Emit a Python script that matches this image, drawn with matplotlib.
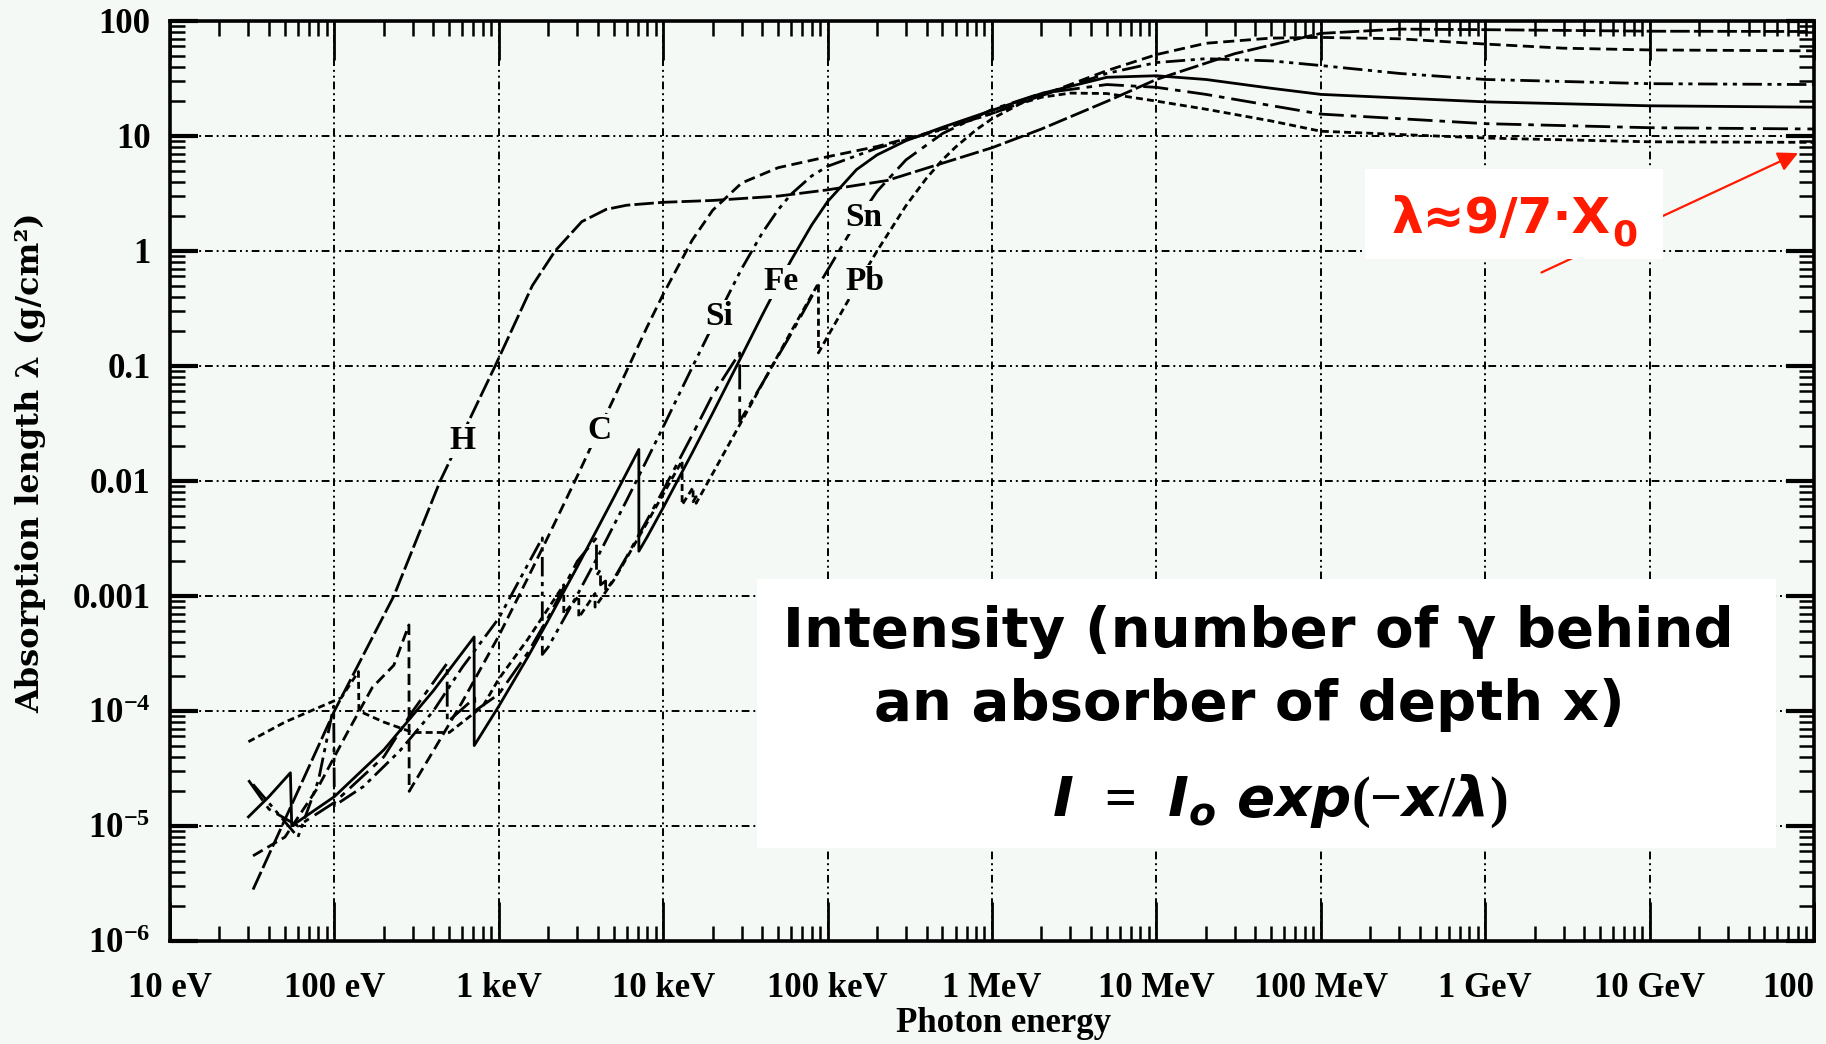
import numpy as np
import matplotlib
matplotlib.use('Agg')
import matplotlib.pyplot as plt
from matplotlib.patches import Rectangle
from matplotlib.ticker import FixedLocator, FixedFormatter, LogLocator, NullFormatter

plt.rcParams['mathtext.fontset'] = 'custom'
plt.rcParams['mathtext.rm'] = 'Liberation Serif:bold'
plt.rcParams['mathtext.it'] = 'DejaVu Sans:italic:bold'
plt.rcParams['mathtext.bf'] = 'DejaVu Sans:bold'

# photon energy in eV, absorption length in g/cm^2
H_E = [32, 100, 230, 440, 950, 1600, 2200, 3200, 4500, 6000, 1e4, 2e4, 5e4, 1e5,
       2.3e5, 5e5, 1e6, 2e6, 5e6, 1e7, 3e7, 1e8, 3e8, 1e9, 1e10, 1e11]
H_lam = [2.8e-6, 1.0e-4, 1.0e-3, 1.0e-2, 0.1, 0.5, 1.0, 1.8, 2.3, 2.5, 2.65, 2.75, 3.0, 3.4,
         4.1, 5.8, 7.9, 11.5, 20, 31, 52, 78, 85, 84, 81.5, 81]

C_E = [32, 50, 80, 120, 170, 230, 284, 285, 400, 600, 1000, 1500, 2000, 3000, 4000, 5000,
       6000, 8000, 1e4, 1.5e4, 2e4, 3e4, 5e4, 1e5, 2e5, 5e5, 1e6, 2e6, 5e6, 1e7, 2e7, 5e7,
       1e8, 3e8, 1e9, 3e9, 1e10, 1e11]
C_lam = [5.5e-6, 8e-6, 2.2e-5, 6.5e-5, 1.6e-4, 2.5e-4, 5.6e-4, 2.0e-5, 4.5e-5, 1.2e-4, 4.5e-4, 1.43e-3, 3.3e-3, 1.1e-2, 2.65e-2, 5.2e-2,
         9.1e-2, 0.22, 0.42, 1.24, 2.26, 3.9, 5.3, 6.6, 8.1, 11.5, 15.7, 22.5, 37, 51, 64, 71,
         72, 70, 63, 58, 56, 55]

Si_E = [32, 45, 60, 80, 99, 100, 150, 250, 400, 600, 1000, 1500, 1839, 1840, 2000, 3000,
        4000, 5000, 6000, 8000, 1e4, 1.5e4, 2e4, 3e4, 4e4, 5e4, 6e4, 8e4, 1e5, 2e5, 5e5,
        1e6, 2e6, 5e6, 1e7, 2e7, 5e7, 1e8, 3e8, 1e9, 1e10, 1e11]
Si_lam = [2.3e-5, 1.3e-5, 8e-6, 2.5e-5, 1.1e-4, 1.5e-5, 2.2e-5, 4.5e-5, 1.0e-4, 2.4e-4, 6.4e-4, 1.87e-3, 3.2e-3, 3.1e-4, 3.6e-4, 1.02e-3,
          2.2e-3, 4.1e-3, 6.8e-3, 1.55e-2, 2.95e-2, 9.7e-2, 0.224, 0.70, 1.43, 2.28, 3.12, 4.49, 5.45, 7.84, 11.4,
          15.7, 22.4, 35, 43.5, 47, 45, 41, 35, 31, 28.5, 28]

Fe_E = [30, 40, 54, 55, 100, 200, 400, 708, 709, 1000, 1500, 2000, 3000, 4000, 5000, 6000,
        7112, 7113, 8000, 1e4, 1.5e4, 2e4, 3e4, 4e4, 5e4, 6e4, 8e4, 1e5, 1.5e5, 2e5, 3e5,
        5e5, 1e6, 2e6, 5e6, 1e7, 2e7, 5e7, 1e8, 1e9, 1e10, 1e11]
Fe_lam = [1.2e-5, 1.8e-5, 2.9e-5, 1.0e-5, 1.8e-5, 4.6e-5, 1.5e-4, 4.4e-4, 5.0e-5, 1.1e-4, 2.94e-4, 6.15e-4, 1.79e-3, 3.9e-3, 7.15e-3, 1.18e-2,
          1.88e-2, 2.45e-3, 3.27e-3, 5.86e-3, 1.75e-2, 3.89e-2, 0.122, 0.276, 0.511, 0.83, 1.68, 2.69, 5.1, 6.85, 9.1,
          11.9, 16.7, 23.4, 32.4, 33.4, 31, 26, 23, 19.8, 18.3, 17.8]

Sn_E = [30, 40, 60, 100, 200, 300, 485, 486, 714, 715, 1000, 1500, 2000, 3000, 3929, 3930,
        4156, 4157, 4465, 4466, 5000, 6000, 8000, 1e4, 1.5e4, 2e4, 2.92e4, 2.921e4, 4e4, 5e4,
        6e4, 8e4, 1e5, 1.5e5, 2e5, 3e5, 5e5, 1e6, 2e6, 5e6, 1e7, 2e7, 1e8, 1e9, 1e10, 1e11]
Sn_lam = [2.5e-5, 1.4e-5, 1.0e-5, 1.6e-5, 4e-5, 1.0e-4, 2.6e-4, 8e-5, 1.3e-4, 1.0e-4, 1.4e-4, 3.2e-4, 6.5e-4, 2.0e-3, 3.2e-3, 1.5e-3,
          1.7e-3, 1.25e-3, 1.35e-3, 1.1e-3, 1.4e-3, 2.2e-3, 4.6e-3, 8.3e-3, 2.5e-2, 5.6e-2, 0.13, 0.033, 0.07, 0.122,
          0.19, 0.40, 0.68, 1.8, 3.3, 6.2, 10.5, 17, 23.5, 28, 26.5, 23, 15.5, 12.8, 11.8, 11.5]

Pb_E = [30, 50, 80, 110, 140, 141, 200, 300, 500, 800, 1000, 1500, 2000, 2484, 2485, 3066,
        3067, 3851, 3852, 5000, 6000, 8000, 1e4, 13035, 13036, 15200, 15201, 15860, 15861, 2e4,
        3e4, 4e4, 5e4, 6e4, 8e4, 88000, 88001, 1e5, 1.5e5, 2e5, 3e5, 4e5, 5e5, 6e5, 8e5,
        1e6, 1.5e6, 2e6, 3e6, 5e6, 1e7, 2e7, 5e7, 1e8, 1e9, 1e10, 1e11]
Pb_lam = [5.4e-5, 8e-5, 1.07e-4, 1.3e-4, 2.2e-4, 1.0e-4, 8e-5, 6.5e-5, 6.5e-5, 1.1e-4, 1.9e-4, 4.2e-4, 7.8e-4, 1.25e-3, 7.0e-4, 1.0e-3,
          6.5e-4, 1.05e-3, 8.0e-4, 1.37e-3, 2.14e-3, 4.37e-3, 7.66e-3, 1.5e-2, 6.2e-3, 8.8e-3, 6.6e-3, 7.3e-3, 6.4e-3, 1.16e-2,
          3.3e-2, 6.96e-2, 0.124, 0.199, 0.413, 0.524, 0.13, 0.18, 0.497, 1.0, 2.48, 4.3, 6.2, 8.0, 11.3,
          14.1, 19.2, 21.7, 23.6, 23.4, 20.1, 17.1, 13.5, 11.0, 9.6, 8.9, 8.8]

elements = ['H', 'C', 'Si', 'Fe', 'Sn', 'Pb']
energies = [H_E, C_E, Si_E, Fe_E, Sn_E, Pb_E]
lengths = [H_lam, C_lam, Si_lam, Fe_lam, Sn_lam, Pb_lam]
# where the element names sit (energy eV, lambda)
label_E = [603, 4090, 22000, 52000, 166000, 169000]
label_lam = [0.0224, 0.0272, 0.268, 0.54, 1.95, 0.54]

x_ticks = [1e1, 1e2, 1e3, 1e4, 1e5, 1e6, 1e7, 1e8, 1e9, 1e10, 1e11]
x_labels = ['10 eV', '100 eV', '1 keV', '10 keV', '100 keV', '1 MeV', '10 MeV',
            '100 MeV', '1 GeV', '10 GeV', '100']
y_ticks = [1e-6, 1e-5, 1e-4, 1e-3, 1e-2, 1e-1, 1, 10, 100]
y_labels = [r'$\mathrm{10^{-6}}$', r'$\mathrm{10^{-5}}$', r'$\mathrm{10^{-4}}$',
            '0.001', '0.01', '0.1', '1', '10', '100']

arrow_head = (8e10, 7.1)
arrow_tail = (2.2e9, 0.65)

bg = '#f4f9f6'
red = '#ff1a00'
serif = 'Liberation Serif'

styles = [(0, (7, 1.5)), (0, (4, 2)), (0, (7, 2, 1.5, 2, 1.5, 2)), '-',
          (0, (9, 2.5, 2, 2.5)), (0, (2.5, 1.5))]

fig = plt.figure(figsize=(18.26, 10.44), dpi=100, facecolor=bg)
ax = fig.add_axes([0.0931, 0.0987, 0.9003, 0.8812], facecolor=bg)

for E, lam, ls in zip(energies, lengths, styles):
    ax.plot(E, lam, color='black', lw=2.0, linestyle=ls, zorder=3)

for name, e, l in zip(elements, label_E, label_lam):
    ax.text(e, l, name, fontsize=24, family=serif, weight='bold', ha='center', va='center',
            zorder=4, bbox=dict(facecolor=bg, edgecolor='none', pad=1))

ax.set_xscale('log')
ax.set_yscale('log')
ax.set_xlim(1e1, 1e11)
ax.set_ylim(1e-6, 1e2)

ax.xaxis.set_major_locator(FixedLocator(x_ticks))
ax.xaxis.set_major_formatter(FixedFormatter(x_labels))
ax.yaxis.set_major_locator(FixedLocator(y_ticks))
ax.yaxis.set_major_formatter(FixedFormatter(y_labels))
ax.xaxis.set_minor_locator(LogLocator(base=10, subs=np.arange(2, 10), numticks=20))
ax.yaxis.set_minor_locator(LogLocator(base=10, subs=np.arange(2, 10), numticks=20))
ax.xaxis.set_minor_formatter(NullFormatter())
ax.yaxis.set_minor_formatter(NullFormatter())

ax.tick_params(axis='x', which='major', direction='in', length=28, width=2, top=True, pad=22)
ax.tick_params(axis='y', which='major', direction='in', length=20, width=3, right=True, pad=14)
ax.tick_params(which='minor', direction='in', length=11, width=1.8, top=True, right=True)
for lab in ax.get_xticklabels() + ax.get_yticklabels():
    lab.set_family(serif)
    lab.set_weight('bold')
    lab.set_fontsize(25)
# the last energy label is cut at the right edge, keep it inside
ax.xaxis.get_major_ticks()[-1].label1.set_horizontalalignment('right')

for sp in ax.spines.values():
    sp.set_linewidth(2.6)

ax.grid(True, which='major', color='black', linestyle=(0, (1, 2, 1, 2, 4, 2)), linewidth=1.4)
ax.set_axisbelow(True)

ax.set_xlabel('Photon energy', family=serif, weight='bold', fontsize=25, va='center')
ax.xaxis.set_label_coords(0.507, -0.09)
ax.set_ylabel('Absorption length λ (g/cm²)', family='DejaVu Serif', weight='bold',
              fontsize=23, va='center')
ax.yaxis.set_label_coords(-0.085, 0.52)

# red arrow to the high energy limit
ax.annotate('', xy=arrow_head, xytext=arrow_tail, zorder=5,
            arrowprops=dict(arrowstyle='-|>', color=red, lw=1.6, mutation_scale=30,
                            shrinkA=0, shrinkB=0))

# white boxes
ax.add_patch(Rectangle((0.7475, 0.7519), 0.1632, 0.0862, transform=fig.transFigure,
                       facecolor='white', edgecolor='none', zorder=6, clip_on=False))
# red formula: main part plus a lowered subscript, centred together in the box
main = fig.text(0, 0.777, 'λ≈9/7·X', family='DejaVu Sans', weight='bold', color=red,
                fontsize=36, ha='left', va='baseline', zorder=7)
sub = fig.text(0, 0.765, '0', family='DejaVu Sans', weight='bold', color=red,
               fontsize=26, ha='left', va='baseline', zorder=7)
fig.canvas.draw()
r = fig.canvas.get_renderer()
fw = fig.bbox.width
w_main = main.get_window_extent(r).width / fw
w_sub = sub.get_window_extent(r).width / fw
x0 = 0.829 - (w_main + w_sub) / 2
main.set_x(x0)
sub.set_x(x0 + w_main + 0.001)

ax.add_patch(Rectangle((0.4146, 0.1877), 0.558, 0.2577, transform=fig.transFigure,
                       facecolor='white', edgecolor='none', zorder=6, clip_on=False))
fig.text(0.689, 0.3946, 'Intensity (number of γ behind', family='DejaVu Sans', weight='bold',
         fontsize=40.5, ha='center', va='center', zorder=7)
fig.text(0.684, 0.3247, 'an absorber of depth x)', family='DejaVu Sans', weight='bold',
         fontsize=40.5, ha='center', va='center', zorder=7)
fig.text(0.701, 0.2328, r'$\mathit{I\ =\ I_o\ exp(-x/\lambda)}$', fontsize=40.5,
         ha='center', va='center', zorder=7)

fig.savefig('out.png', dpi=100, facecolor=bg)
